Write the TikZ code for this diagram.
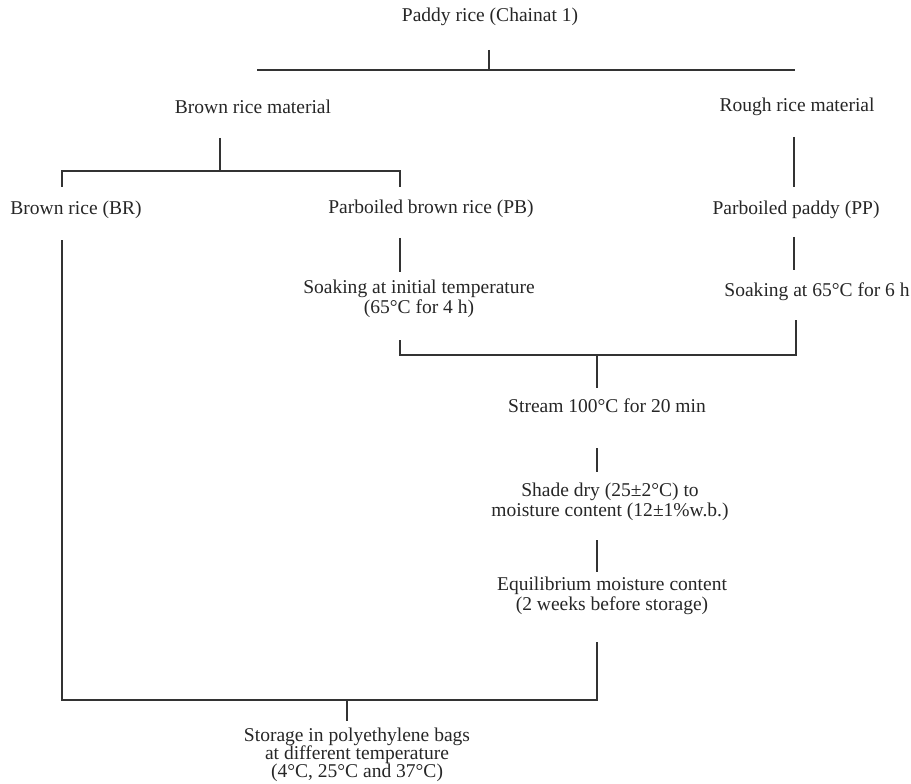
\documentclass[tikz,border=0pt]{standalone}
\usepackage{fontspec}
\setmainfont{Liberation Serif}
\begin{document}
\begin{tikzpicture}[x=0.018cm, y=-0.018cm, line width=0.6pt, draw=black!80,
    txt/.style={align=center, inner sep=0pt, text=black!85, font=\fontsize{10}{10}\selectfont}]
      \useasboundingbox (0,0) rectangle (911,784);
      % Nodes
      \node[txt] at (490, 17) (paddy) {Paddy rice (Chainat 1)};
      \node[txt] at (253, 107) (brmat) {Brown rice material};
      \node[txt] at (797, 107) (roughmat) {Rough rice material};
      \node[txt] at (76, 210) (br) {Brown rice (BR)};
      \node[txt] at (431, 209) (pb) {Parboiled brown rice (PB)};
      \node[txt] at (796, 210) (pp) {Parboiled paddy (PP)};
      \node[txt] at (419, 299) (soakpb) {Soaking at initial temperature\\(65°C for 4 h)};
      \node[txt] at (817, 292) (soakpp) {Soaking at 65°C for 6 h};
      \node[txt] at (607, 406) (steam) {Stream 100°C for 20 min};
      \node[txt] at (610, 502) (shade) {Shade dry (25±2°C) to\\moisture content (12±1\%w.b.)};
      \node[txt] at (612, 596) (equil) {Equilibrium moisture content\\(2 weeks before storage)};
      \node[txt, font=\fontsize{10}{9.3}\selectfont] at (357, 755) (store) {Storage in polyethylene bags\\at different temperature\\(4°C, 25°C and 37°C)};

      % Line ends
      \coordinate (t1) at (489, 50);
      \coordinate (t2) at (489, 70);
      \coordinate (tl) at (257, 70);
      \coordinate (tr) at (795, 70);
      \coordinate (b1) at (220, 138);
      \coordinate (b2) at (220, 171);
      \coordinate (bl) at (62, 187);
      \coordinate (br1) at (400, 187);
      \coordinate (brtop) at (62, 240);
      \coordinate (pb1) at (400, 238);
      \coordinate (pb2) at (400, 272);
      \coordinate (r1) at (794, 137);
      \coordinate (r2) at (794, 187);
      \coordinate (pp1) at (794, 237);
      \coordinate (pp2) at (794, 270);
      \coordinate (s1) at (400, 340);
      \coordinate (s2) at (796, 320);
      \coordinate (j1) at (597, 355);
      \coordinate (j2) at (597, 388);
      \coordinate (d1) at (597, 448);
      \coordinate (d2) at (597, 472);
      \coordinate (e1) at (597, 540);
      \coordinate (e2) at (597, 572);
      \coordinate (q1) at (597, 642);
      \coordinate (k1) at (347, 700);
      \coordinate (k2) at (347, 721);

      \draw (t1) -- (t2);
      \draw (tl) -- (tr);
      \draw (b1) -- (b2);
      \draw (bl) |- (b2) -| (br1);
      \draw (pb1) -- (pb2);
      \draw (r1) -- (r2);
      \draw (pp1) -- (pp2);
      \draw (s1) |- (j1) -| (s2);
      \draw (j1) -- (j2);
      \draw (d1) -- (d2);
      \draw (e1) -- (e2);
      \draw (q1) |- (k1) -| (brtop);
      \draw (k1) -- (k2);
    \end{tikzpicture}
\end{document}
